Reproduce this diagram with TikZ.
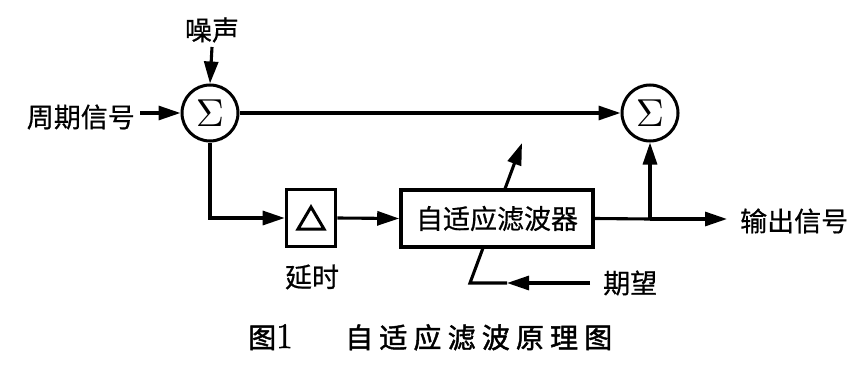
\documentclass[tikz,border=0pt]{standalone}
\usepackage{fontspec}
\newfontfamily\cjk[FakeBold=0.6]{Noto Sans CJK SC}
\newfontfamily\cjkcap[LetterSpace=22,FakeBold=1.6]{Noto Sans CJK SC}
\newfontfamily\lmr[FakeBold=1.5]{Latin Modern Roman}
\usetikzlibrary{arrows.meta,calc}
\tikzset{
  lbl/.style={font=\cjk\fontsize{27}{27}\selectfont, inner sep=0pt},
  sumnode/.style={circle, draw, line width=3pt, minimum size=56pt, inner sep=0pt},
  blk/.style={draw, line width=3.6pt, inner sep=0pt},
  wire/.style={line width=3.1pt},
  arr/.style={wire, -{Triangle[length=22pt,width=14pt]}},
}
\newcommand{\sumsym}{\scalebox{3.9}{$\Sigma$}}
\begin{document}
\begin{tikzpicture}[x=1pt,y=-1pt]
\useasboundingbox (0,0) rectangle (866,369);
% nodes
\node[sumnode] (s1) at (210,113) {\sumsym};
\node[sumnode] (s2) at (650,113) {\sumsym};
\node[lbl] (noise) at (212,30) {噪声};
\node[lbl, anchor=east] (per) at (135,117) {周期信号};
\node[blk, minimum width=49pt, minimum height=57pt] (d) at (311,218) {};
\node[blk, minimum width=192pt, minimum height=57pt, lbl, draw, line width=3.6pt] (f) at (497,218.5) {自适应滤波器};
\node[lbl] (dl) at (312,277) {延时};
\node[lbl, anchor=west] (out) at (740,221) {输出信号};
\node[lbl, anchor=west] (des) at (603,283) {期望};
\node[font=\cjkcap\fontsize{28}{28}\selectfont, inner sep=0pt, anchor=base west] (cap1) at (248,348) {图{\lmr\fontsize{36}{36}\selectfont 1}};
\node[font=\cjkcap\fontsize{28}{28}\selectfont, inner sep=0pt, anchor=base west] (cap2) at (345,348) {自适应滤波原理图};
% delta triangle
\draw[line width=3pt, line join=miter, shift={(d.center)}] (-13,11) -- (13,11) -- (0,-11) -- cycle;
% coordinates
\coordinate (c1) at (210,218);
\coordinate (br) at (650,219);
\coordinate (otip) at (727,219);
\coordinate (dstart) at (590,283);
\coordinate (dmid) at (507,283);
\coordinate (dcorner) at (470,283);
\coordinate (dtip) at (522,143);
\coordinate (nstart) at (212,47);
\coordinate (pstart) at (140,113);
% connectors
\draw[arr] (nstart) -- (s1.north);
\draw[arr] (pstart) -- (s1.west);
\draw[arr] (s1.east) -- (s2.west);
\draw[arr] (s1.south) -- (c1) -- (d.west);
\draw[arr] (d.east) -- (f.west);
\draw[wire] (f.east) -- (br);
\draw[arr] (br) -- (otip);
\draw[arr] (br) -- (s2.south);
\draw[arr] (dstart) -- (dmid);
\draw[wire] (dmid) -- (dcorner) -- ($(dcorner)!0.245!(dtip)$);
\draw[arr] ($(dcorner)!0.675!(dtip)$) -- (dtip);
\end{tikzpicture}
\end{document}
